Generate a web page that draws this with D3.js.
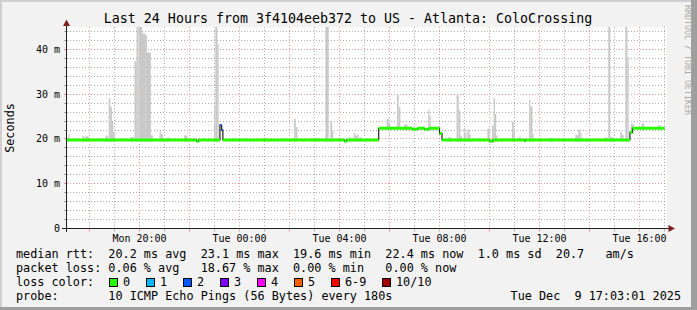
<!DOCTYPE html>
<html><head><meta charset="utf-8">
<script src="https://cdn.jsdelivr.net/npm/d3@7"></script>
<style>
html,body{margin:0;padding:0;background:#f2f2f2;}
svg{display:block;}
text{font-family:"DejaVu Sans Mono",monospace;white-space:pre;}
</style></head><body>
<svg id="c" width="697" height="310"></svg>
<script>
// ---------------- data ----------------
const title = "Last 24 Hours from 3f4104eeb372 to US - Atlanta: ColoCrossing";
const yAxisTitle = "Seconds";
const watermark = "RRDTOOL / TOBI OETIKER";
const rangeStart = "Mon 17:05", rangeEnd = "Tue 17:05";
const yMax = 45;
const yTickValues = [0, 10, 20, 30, 40];
const yTickLabels = ["0", "10 m", "20 m", "30 m", "40 m"];
const xTickTimes  = ["Mon 20:00", "Tue 00:00", "Tue 04:00", "Tue 08:00", "Tue 12:00", "Tue 16:00"];
const xTickLabels = ["Mon 20:00", "Tue 00:00", "Tue 04:00", "Tue 08:00", "Tue 12:00", "Tue 16:00"];

// median rtt (ms), as steps starting at the given times; loss class index per step
const medianStart = ["Mon 17:05","Mon 22:17","Mon 22:22","Mon 23:13","Mon 23:17","Mon 23:20","Tue 04:12","Tue 04:17",
  "Tue 05:34","Tue 06:55","Tue 07:07","Tue 07:24","Tue 07:34","Tue 08:00","Tue 08:06","Tue 10:00","Tue 10:07",
  "Tue 11:24","Tue 11:27","Tue 15:37","Tue 15:43","Tue 17:00"];
const medianValue = [19.8,19.5,19.8,23.1,22.0,19.8,19.5,19.8,22.4,22.2,22.4,22.2,22.4,21.2,19.8,19.5,19.8,19.6,19.8,21.5,22.4,null];
const medianLoss  = [0,0,0,2,2,0,0,0,0,0,0,0,0,0,0,0,0,0,0,0,0,null];

// smoke (highest ping of the step, ms) where it shows above the median
const smokeFrom = ["Mon 17:09","Mon 17:42","Mon 17:49","Mon 18:38","Mon 18:46","Mon 18:50","Mon 18:54","Mon 18:57","Mon 19:38",
  "Mon 19:48","Mon 19:53","Mon 19:59","Mon 20:06","Mon 20:14","Mon 20:18","Mon 20:27","Mon 20:48","Mon 20:51","Mon 21:04","Mon 21:47",
  "Mon 22:59","Mon 23:02","Mon 23:07","Tue 02:11","Tue 02:15","Tue 03:26","Tue 03:38","Tue 03:42","Tue 04:22","Tue 04:34",
  "Tue 04:38","Tue 04:43","Tue 04:48","Tue 04:59","Tue 05:53","Tue 05:58","Tue 06:18","Tue 06:22","Tue 06:35","Tue 07:33",
  "Tue 07:36","Tue 08:21","Tue 08:41","Tue 08:46","Tue 08:50","Tue 08:58","Tue 09:02","Tue 09:07","Tue 09:12","Tue 09:55",
  "Tue 10:06","Tue 10:10","Tue 10:13","Tue 10:16","Tue 10:54","Tue 10:58","Tue 11:11","Tue 11:35","Tue 11:38","Tue 11:43",
  "Tue 12:23","Tue 13:26","Tue 13:33","Tue 13:38","Tue 14:37","Tue 14:45","Tue 14:50","Tue 15:14","Tue 15:18","Tue 15:26",
  "Tue 15:31","Tue 15:39","Tue 16:05","Tue 16:45"];
const smokeTo = ["Mon 17:12","Mon 17:47","Mon 17:58","Mon 18:45","Mon 18:50","Mon 18:54","Mon 18:57","Mon 19:01","Mon 19:46",
  "Mon 19:53","Mon 19:58","Mon 20:06","Mon 20:14","Mon 20:18","Mon 20:27","Mon 20:32","Mon 20:51","Mon 20:56","Mon 21:12","Mon 21:55",
  "Mon 23:02","Mon 23:07","Mon 23:10","Tue 02:15","Tue 02:19","Tue 03:34","Tue 03:42","Tue 03:45","Tue 04:27","Tue 04:38",
  "Tue 04:43","Tue 04:46","Tue 04:53","Tue 05:04","Tue 05:58","Tue 06:02","Tue 06:22","Tue 06:26","Tue 06:43","Tue 07:36",
  "Tue 07:39","Tue 08:27","Tue 08:46","Tue 08:50","Tue 08:54","Tue 09:02","Tue 09:05","Tue 09:12","Tue 09:15","Tue 10:00",
  "Tue 10:10","Tue 10:13","Tue 10:16","Tue 10:19","Tue 10:58","Tue 11:01","Tue 11:16","Tue 11:38","Tue 11:43","Tue 11:46",
  "Tue 12:36","Tue 13:33","Tue 13:38","Tue 13:41","Tue 14:41","Tue 14:50","Tue 14:58","Tue 15:18","Tue 15:22","Tue 15:31",
  "Tue 15:34","Tue 15:46","Tue 16:11","Tue 16:50"];
const smokeTop = [21.1,20.6,20.6,20.6,29.1,27.1,23.8,21.6,20.4,
  37.4,50,50,43.6,43.2,39.3,20.8,21.7,21.1,20.3,20.8,
  27.5,50,41.2,24.5,22.7,50,23.9,21.9,20.4,21.3,
  20.8,21.1,20.4,20.2,24.5,23.5,29.8,27.1,23.2,26.6,
  25.1,20.4,29.8,26.4,20.8,22.4,21.4,22.1,21.0,22.3,
  23.0,29.1,25.6,20.8,23.9,22.4,20.4,28.8,27.3,21.2,
  20.2,20.9,22.1,21.3,20.4,50,20.4,21.6,20.9,50,
  38.3,23.3,23.5,23.1];

const lossLabels = ["0","1","2","3","4","5","6-9","10/10"];
const lossColors = ["#26ff00","#00b8ff","#0059ff","#7e00ff","#ff00ff","#ff5e00","#ff0000","#a10000"];
const legendLines = [
  "median rtt:  20.2 ms avg  23.1 ms max  19.6 ms min  22.4 ms now  1.0 ms sd  20.7   am/s",
  "packet loss: 0.06 % avg   18.67 % max  0.00 % min   0.00 % now",
  "loss color:",
  "probe:       10 ICMP Echo Pings (56 Bytes) every 180s"
];
const stamp = "Tue Dec  9 17:03:01 2025";

// ---------------- drawing ----------------
function pt(s){ const [d, hm] = s.split(" "); const [h, m] = hm.split(":").map(Number);
  return new Date(2025, 11, d === "Mon" ? 8 : 9, h, m); }

const W = 697, H = 310;
const L = 66.6, R = 666.6, B = 228.5, T = 27.1;
const svg = d3.select("#c");
const x = d3.scaleTime().domain([pt(rangeStart), pt(rangeEnd)]).range([L, R]);
const y = d3.scaleLinear().domain([0, yMax]).range([B, T]);
const px = v => Math.floor(v) + 0.5;

// background and 3D border
svg.append("rect").attr("width", W).attr("height", H).attr("fill", "#f2f2f2");
svg.append("rect").attr("x", 0).attr("y", 0).attr("width", W).attr("height", 2).attr("fill", "#cfcfcf");
svg.append("rect").attr("x", 0).attr("y", 0).attr("width", 2).attr("height", H).attr("fill", "#cfcfcf");
svg.append("rect").attr("x", 691).attr("y", 0).attr("width", W - 691).attr("height", H).attr("fill", "#9e9e9e");
svg.append("rect").attr("x", 0).attr("y", 307).attr("width", W).attr("height", H - 307).attr("fill", "#9e9e9e");

// canvas
svg.append("rect").attr("x", 67).attr("y", T).attr("width", 600).attr("height", B - T).attr("fill", "#ffffff");

const defs = svg.append("defs");
defs.append("clipPath").attr("id", "clip").append("rect")
  .attr("x", 67).attr("y", T).attr("width", 600).attr("height", B - T);

// grid
const grid = svg.append("g");
const minorCol = "rgba(143,143,143,0.75)", majorCol = "rgba(222,79,79,0.6)";
d3.range(2, yMax, 2).forEach(v => {
  const major = v % 10 === 0;
  grid.append("line").attr("x1", 67).attr("x2", 667).attr("y1", px(y(v))).attr("y2", px(y(v)))
    .attr("stroke", major ? majorCol : minorCol).attr("stroke-dasharray", "1,2");
  grid.append("line").attr("x1", 64).attr("x2", 66).attr("y1", px(y(v))).attr("y2", px(y(v)))
    .attr("stroke", major ? majorCol : minorCol);
});
x.ticks(d3.timeHour.every(1)).forEach(t => {
  const major = t.getHours() % 2 === 0;
  const xx = px(x(t));
  grid.append("line").attr("x1", xx).attr("x2", xx).attr("y1", T).attr("y2", B)
    .attr("stroke", major ? majorCol : minorCol).attr("stroke-dasharray", "1,2");
  grid.append("line").attr("x1", xx).attr("x2", xx).attr("y1", B + 1).attr("y2", B + 3)
    .attr("stroke", major ? majorCol : minorCol);
});

const plot = svg.append("g").attr("clip-path", "url(#clip)");

// median lookup
const segStarts = medianStart.map(pt);
function medianAt(t){ let i = d3.bisectRight(segStarts, t) - 1; if (i < 0) i = 0;
  let v = medianValue[i]; if (v == null) v = medianValue[i - 1]; return v; }

// smoke
plot.append("g").selectAll("rect").data(smokeTop).join("rect")
  .attr("x", (d, i) => x(pt(smokeFrom[i])))
  .attr("width", (d, i) => x(pt(smokeTo[i])) - x(pt(smokeFrom[i])))
  .attr("y", d => y(d))
  .attr("height", (d, i) => Math.max(0, y(medianAt(pt(smokeFrom[i])) - 0.4) - y(d)))
  .attr("fill", "#c8c8c8");

// median thin black step line
const pts = medianStart.map((s, i) => ({ t: pt(s), v: medianValue[i] }));
const last = pts[pts.length - 1]; last.v = medianValue[medianValue.length - 2];
plot.append("path")
  .attr("d", d3.line().x(d => x(d.t)).y(d => y(d.v)).curve(d3.curveStepAfter)(pts))
  .attr("fill", "none").attr("stroke", "#1e1e1e").attr("stroke-width", 1.2);

// median colored by loss
plot.append("g").selectAll("line").data(medianValue.slice(0, -1)).join("line")
  .attr("x1", (d, i) => x(pt(medianStart[i])))
  .attr("x2", (d, i) => x(pt(medianStart[i + 1])))
  .attr("y1", d => y(d)).attr("y2", d => y(d))
  .attr("stroke", (d, i) => lossColors[medianLoss[i]])
  .attr("stroke-width", (d, i) => medianLoss[i] === 0 ? 3 : 1.6);

// axes
const axisCol = "#1f1f1f", arrowCol = "#801f1f";
svg.append("line").attr("x1", 62).attr("x2", 670).attr("y1", B).attr("y2", B).attr("stroke", axisCol);
svg.append("line").attr("x1", 66.5).attr("x2", 66.5).attr("y1", B + 3.5).attr("y2", 24).attr("stroke", axisCol);
svg.append("path").attr("d", "M66.5,19.5 L63,26 L70,26 Z").attr("fill", arrowCol);
svg.append("path").attr("d", "M675,228.5 L668.5,225 L668.5,232 Z").attr("fill", arrowCol);

// tick labels
svg.append("g").selectAll("text").data(yTickValues).join("text")
  .attr("x", 60).attr("y", d => y(d) + 3.5).attr("text-anchor", "end")
  .attr("font-size", 10).attr("fill", "#000").text((d, i) => yTickLabels[i]);
svg.append("g").selectAll("text").data(xTickTimes).join("text")
  .attr("x", d => x(pt(d))).attr("y", 242).attr("text-anchor", "middle")
  .attr("font-size", 10).attr("fill", "#000").text((d, i) => xTickLabels[i]);

// titles
svg.append("text").attr("x", 348).attr("y", 23).attr("text-anchor", "middle")
  .attr("font-size", 13.3).attr("fill", "#000").text(title);
svg.append("text").attr("transform", "translate(14,128) rotate(-90)").attr("text-anchor", "middle")
  .attr("font-size", 11.8).attr("fill", "#000").text(yAxisTitle);
svg.append("text").attr("transform", "translate(685,5) rotate(90)")
  .attr("font-size", 8.3).attr("fill", "#aaaaaa").text(watermark);

// legend
const lg = svg.append("g").attr("font-size", 11.8).attr("fill", "#000");
legendLines.forEach((s, i) => lg.append("text").attr("x", 16).attr("y", 258 + 14 * i).text(s));
const boxX = [109, 146, 183, 220, 257, 294, 331, 382];
lossLabels.forEach((l, i) => {
  lg.append("rect").attr("x", boxX[i] + 0.5).attr("y", 278.5).attr("width", 8).attr("height", 8)
    .attr("fill", lossColors[i]).attr("stroke", "#000").attr("stroke-width", 1);
  lg.append("text").attr("x", boxX[i] + 14).attr("y", 286).text(l);
});
lg.append("text").attr("x", 681).attr("y", 300).attr("text-anchor", "end").text(stamp);
</script>
</body></html>
